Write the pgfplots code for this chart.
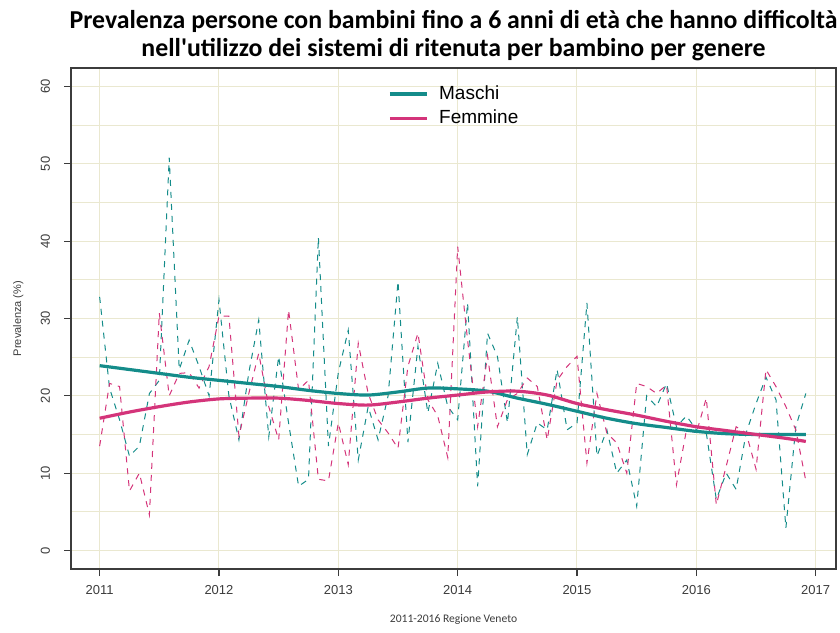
\documentclass[border=0pt]{standalone}
\usepackage{pgfplots}
\pgfplotsset{compat=1.18}
\usepackage{pgfplotstable}
\usepackage{fontspec}
\setmainfont{Liberation Sans}
\newfontfamily\calibri{Carlito}

\definecolor{maschi}{RGB}{20,140,138}
\definecolor{femmine}{RGB}{212,52,122}
\definecolor{griglia}{RGB}{234,232,208}
\definecolor{assi}{RGB}{60,60,60}

% monthly prevalence (%) by sex, 2011-2016
\pgfplotstableread{
x        m     f
2011.000 32.8  13.5
2011.083 21.0  21.6
2011.167 16.9  21.2
2011.250 12.2  7.7
2011.333 13.5  10.0
2011.417 20.3  4.6
2011.500 22.0  30.7
2011.583 50.8  20.0
2011.667 23.4  22.9
2011.750 27.2  23.0
2011.833 23.8  21.0
2011.917 20.0  23.8
2012.000 32.4  30.3
2012.083 20.0  30.3
2012.167 14.3  14.8
2012.250 23.0  20.3
2012.333 29.8  25.5
2012.417 14.7  18.6
2012.500 25.1  14.3
2012.583 16.5  31.1
2012.667 8.3   20.8
2012.750 9.2   22.0
2012.833 40.5  9.2
2012.917 13.5  9.0
2013.000 23.0  16.5
2013.083 28.5  11.1
2013.167 11.7  26.8
2013.250 18.6  20.3
2013.333 14.3  16.9
2013.417 20.0  15.2
2013.500 34.8  13.2
2013.583 14.0  23.8
2013.667 26.4  28.1
2013.750 17.8  19.5
2013.833 24.2  17.4
2013.917 18.6  12.0
2014.000 16.9  39.3
2014.083 32.0  27.2
2014.167 8.3   16.0
2014.250 28.1  25.2
2014.333 25.1  16.0
2014.417 16.5  19.5
2014.500 30.2  20.3
2014.583 12.4  22.3
2014.667 16.5  21.2
2014.750 15.6  14.3
2014.833 23.4  22.0
2014.917 15.6  23.8
2015.000 16.5  25.1
2015.083 32.0  11.3
2015.167 12.2  20.3
2015.250 15.6  15.2
2015.333 10.0  13.9
2015.417 11.7  10.0
2015.500 5.7   21.6
2015.583 20.0  21.2
2015.667 18.6  20.3
2015.750 21.6  21.4
2015.833 16.0  8.5
2015.917 17.4  15.6
2016.000 15.6  15.2
2016.083 15.2  19.7
2016.167 6.6   5.9
2016.250 10.0  10.9
2016.333 7.9   16.0
2016.417 15.2  15.2
2016.500 19.0  10.5
2016.583 22.4  23.4
2016.667 19.5  21.2
2016.750 2.9   18.6
2016.833 16.0  15.6
2016.917 20.3  9.0
}\mensile

% smoothed trend
\pgfplotstableread{
x        m     f
2011.000 23.9  17.1
2011.250 23.4  17.9
2011.500 22.9  18.6
2011.750 22.4  19.2
2012.000 22.0  19.6
2012.250 21.6  19.7
2012.500 21.2  19.7
2012.750 20.7  19.4
2013.000 20.3  19.0
2013.250 20.1  18.8
2013.500 20.5  19.2
2013.750 21.0  19.7
2014.000 20.9  20.1
2014.250 20.6  20.5
2014.500 19.7  20.6
2014.750 18.9  20.1
2015.000 18.0  19.0
2015.250 17.1  18.2
2015.500 16.4  17.5
2015.750 15.9  16.7
2016.000 15.4  16.0
2016.250 15.1  15.5
2016.500 15.0  15.0
2016.750 15.0  14.5
2016.917 15.0  14.1
}\trend

\begin{document}
\begin{tikzpicture}
\useasboundingbox (-35.5pt,-31.5pt) rectangle (384.5pt,284.5pt);
\begin{axis}[
  scale only axis,
  width=382.5pt, height=250.5pt,
  xmin=2010.76, xmax=2017.17,
  ymin=-2.4, ymax=62.4,
  xtick={2011,2012,...,2017},
  ytick={0,10,...,60},
  minor x tick num=3,
  minor y tick num=1,
  grid=both,
  major grid style={griglia, line width=0.5pt},
  minor grid style={griglia, line width=0.5pt},
  minor tick length=0pt,
  major tick length=3.5pt,
  tick align=outside,
  xtick pos=left, ytick pos=left,
  axis line style={assi, line width=0.6pt},
  tick style={assi, line width=0.6pt},
  /pgf/number format/assume math mode=true,
  /pgf/number format/1000 sep={},
  ticklabel style={font=\fontsize{6.5}{7.5}\selectfont, text=assi},
  yticklabel style={xshift=-3.5pt, rotate=90, anchor=south},
  xticklabel style={yshift=-1pt},
  ylabel={Prevalenza (\%)},
  ylabel style={at={(axis description cs:-0.069,0.5)}, anchor=center, font=\fontsize{5.5}{6.5}\selectfont, text=assi},
  xlabel={2011-2016 Regione Veneto},
  xlabel style={at={(axis description cs:0.5,0)}, anchor=center, yshift=-25.5pt, font=\calibri\fontsize{5.8}{6.8}\selectfont, text=assi},
  legend style={at={(rel axis cs:0.406,0.982)}, anchor=north west, draw=none, fill=none,
    font=\fontsize{9.5}{11}\selectfont, row sep=0pt, nodes={inner xsep=5pt}},
  legend cell align=left,
  legend image code/.code={\draw[#1, line width=1.8pt] (0cm,0cm) -- (0.66cm,0cm);},
]
\addplot[maschi, dashed, line width=0.5pt, forget plot] table[x=x, y=m] {\mensile};
\addplot[femmine, dashed, line width=0.5pt, forget plot] table[x=x, y=f] {\mensile};
\addplot[maschi, line width=1.6pt, smooth] table[x=x, y=m] {\trend};
\addlegendentry{Maschi}
\addplot[femmine, line width=1.6pt, smooth] table[x=x, y=f] {\trend};
\addlegendentry{Femmine}
\end{axis}
\node[align=center, font=\calibri\bfseries\fontsize{12.9}{13.8}\selectfont] at (191.25pt,266.75pt)
  {Prevalenza persone con bambini fino a 6 anni di età che hanno difficoltà\\nell'utilizzo dei sistemi di ritenuta per bambino per genere};
\end{tikzpicture}
\end{document}
